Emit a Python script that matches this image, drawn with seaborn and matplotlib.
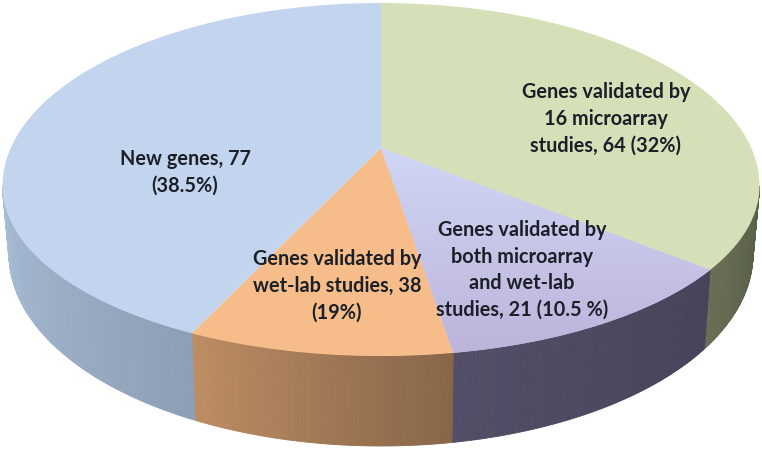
import numpy as np
import seaborn as sns
import matplotlib.pyplot as plt
from matplotlib.colors import LinearSegmentedColormap
from matplotlib.path import Path
from matplotlib.transforms import Affine2D, Transform

# values as labelled, clockwise from the top
genes = [64, 21, 38, 77]
labels = ["Genes validated by\n16 microarray\nstudies, 64 (32%)",
          "Genes validated by\nboth microarray\nand wet-lab\nstudies, 21 (10.5 %)",
          "Genes validated by\nwet-lab studies, 38\n(19%)",
          "New genes, 77\n(38.5%)"]
top_colors = ["#d5e0b9", "#c3bde2", "#f6bd8b", "#c3d5ee"]
wall_left = ["#676e55", "#524e67", "#bd8c63", "#a9bdd6"]
wall_right = ["#565d46", "#474259", "#876648", "#8c9fb6"]

label_x = [606, 522, 337, 185]
label_y = [119, 270, 286, 172]

# where the perspective view puts the slice edges, degrees clockwise from top
edge_angles = [0, 119.6, 169, 210, 360]
true_edges = np.r_[0, np.cumsum(genes)] / sum(genes) * 360

apex = (381, 148)


def rim(phi):
    # upper edge of the disc, near half is a bit flatter than the far half
    rad = np.radians(phi)
    b = np.where(np.cos(rad) > 0, 183, 170)
    return 381 + 378.5 * np.sin(rad), 186 - b * np.cos(rad)


def base(phi):
    rad = np.radians(phi)
    return 381 + 372 * np.sin(rad), 254 - 192 * np.cos(rad)


class PieView(Transform):
    input_dims = 2
    output_dims = 2
    is_separable = False
    has_inverse = False

    def transform_non_affine(self, values):
        values = np.asarray(values)
        r = np.hypot(values[:, 0], values[:, 1])
        theta = np.degrees(np.arctan2(values[:, 0], values[:, 1])) % 360
        rim_x, rim_y = rim(np.interp(theta, true_edges, edge_angles))
        return np.column_stack([apex[0] + r * (rim_x - apex[0]),
                                apex[1] + r * (rim_y - apex[1])])

    def transform_path_non_affine(self, path):
        # flatten the arcs first, the view is not a straight mapping
        pts = path.transformed(Affine2D().scale(400)).to_polygons()[0] / 400
        return Path(self.transform_non_affine(pts))


sns.set_theme(style="white")
plt.rcParams["font.family"] = ["Lato", "DejaVu Sans"]

fig = plt.figure(figsize=(7.62, 4.5), dpi=100)
ax = fig.add_axes([0, 0, 1, 1])

wedges, _ = ax.pie(genes, colors=top_colors, startangle=90, counterclock=False,
                   wedgeprops={"linewidth": 0})
view = PieView() + ax.transData
for wedge in wedges:
    wedge.set_transform(view)
    wedge.set_zorder(3)

# side wall, one ramp of thin strips per slice
for i in range(len(genes)):
    start = max(edge_angles[i], 90)
    stop = min(edge_angles[i + 1], 270)
    if stop <= start:
        continue
    n = max(int(stop - start) * 2, 2)
    ramp = sns.blend_palette([wall_right[i], wall_left[i]], n_colors=n)
    steps = np.linspace(start, stop, n + 1)
    for j in range(n):
        phi = np.linspace(steps[j], steps[j + 1], 4)
        top_x, top_y = rim(phi)
        low_x, low_y = base(phi)
        ax.fill(np.r_[top_x, low_x[::-1]], np.r_[top_y, low_y[::-1]],
                color=ramp[j], linewidth=0.6, zorder=2)

# the purple slice fades to pale blue towards the centre
fade = LinearSegmentedColormap.from_list("fade", ["#cfd6f5", "#bdb4db"])
shade = ax.imshow(np.linspace(0, 1, 200)[:, None], cmap=fade,
                  extent=(0, 762, 355, 148), aspect="auto", zorder=3.5)
shade.set_clip_path(wedges[1])

for text, x, y in zip(labels, label_x, label_y):
    ax.text(x, y, text, ha="center", va="center", fontsize=14.3,
            fontweight="bold", color="#1b1f27", linespacing=1.42, zorder=5)

ax.set_aspect("auto")
ax.set_xlim(0, 762)
ax.set_ylim(450, 0)
ax.axis("off")

plt.savefig("out.png", dpi=100)
